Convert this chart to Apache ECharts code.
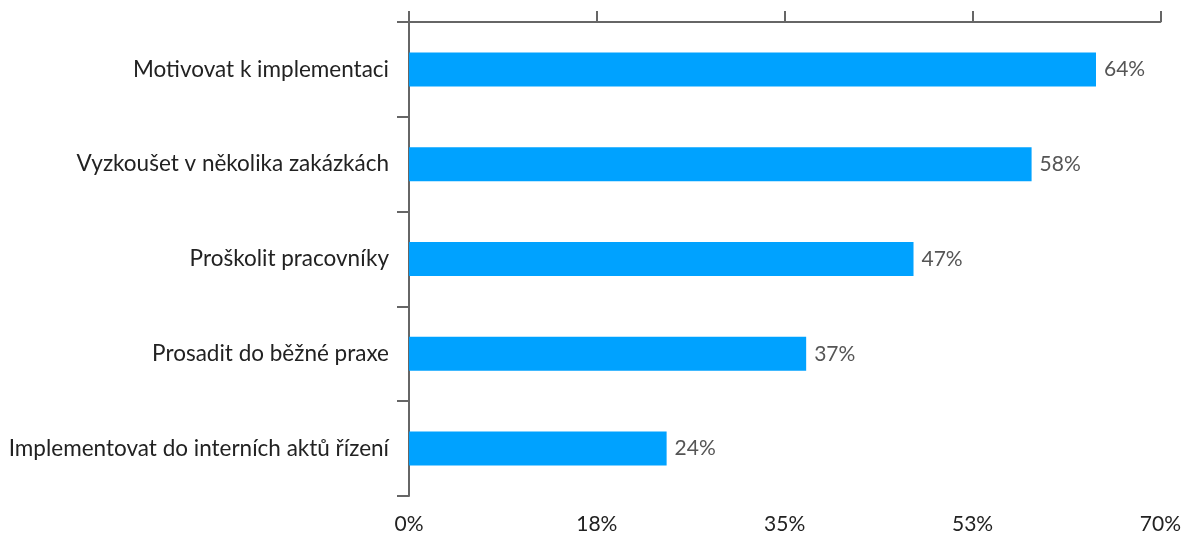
<!DOCTYPE html>
<html>
<head>
    <meta charset="utf-8">
    <title>ECharts</title>
    <script src="https://cdn.jsdelivr.net/npm/echarts@6/dist/echarts.min.js"></script>
</head>
<body style="margin:0">
    <div id="main" style="width: 1184px;height:535px;"></div>
    <script type="text/javascript">
        var categories = [
            'Motivovat k implementaci',
            'Vyzkoušet v několika zakázkách',
            'Proškolit pracovníky',
            'Prosadit do běžné praxe',
            'Implementovat do interních aktů řízení'
        ];
        var values = [64, 58, 47, 37, 24];
        var axisMin = 0;
        var axisMax = 70;
        var axisStep = 17.5;

        var axisColor = '#666';
        var font = 'Lato, "Noto Sans", sans-serif';

        var myChart = echarts.init(document.getElementById('main'));
        var option = {
            backgroundColor: '#fff',
            animation: false,
            grid: { left: 409, right: 23, top: 22, bottom: 38 },
            xAxis: [{
                type: 'value',
                position: 'top',
                min: axisMin,
                max: axisMax,
                interval: axisStep,
                axisLine: { show: true, lineStyle: { color: axisColor, width: 2 } },
                axisTick: { show: true, length: 11, lineStyle: { color: axisColor, width: 2 } },
                axisLabel: { show: false },
                splitLine: { show: false }
            }, {
                type: 'value',
                position: 'bottom',
                min: axisMin,
                max: axisMax,
                interval: axisStep,
                axisLine: { show: false },
                axisTick: { show: false },
                splitLine: { show: false },
                axisLabel: {
                    margin: 18,
                    color: '#222',
                    fontFamily: font,
                    fontSize: 21,
                    formatter: function (v) { return Math.round(v) + '%'; }
                }
            }],
            yAxis: {
                type: 'category',
                data: categories,
                inverse: true,
                axisLine: { show: true, lineStyle: { color: axisColor, width: 2 } },
                axisTick: { show: true, length: 12, lineStyle: { color: axisColor, width: 2 } },
                axisLabel: {
                    margin: 20,
                    color: '#222',
                    fontFamily: font,
                    fontSize: 22.5
                }
            },
            series: [{
                type: 'bar',
                data: values,
                barWidth: 34,
                xAxisIndex: 0,
                itemStyle: { color: '#00a2ff' },
                label: {
                    show: true,
                    position: 'right',
                    distance: 8,
                    color: '#555',
                    fontFamily: font,
                    fontSize: 21,
                    formatter: '{c}%'
                }
            }]
        };
        myChart.setOption(option);
    </script>
</body>
</html>
